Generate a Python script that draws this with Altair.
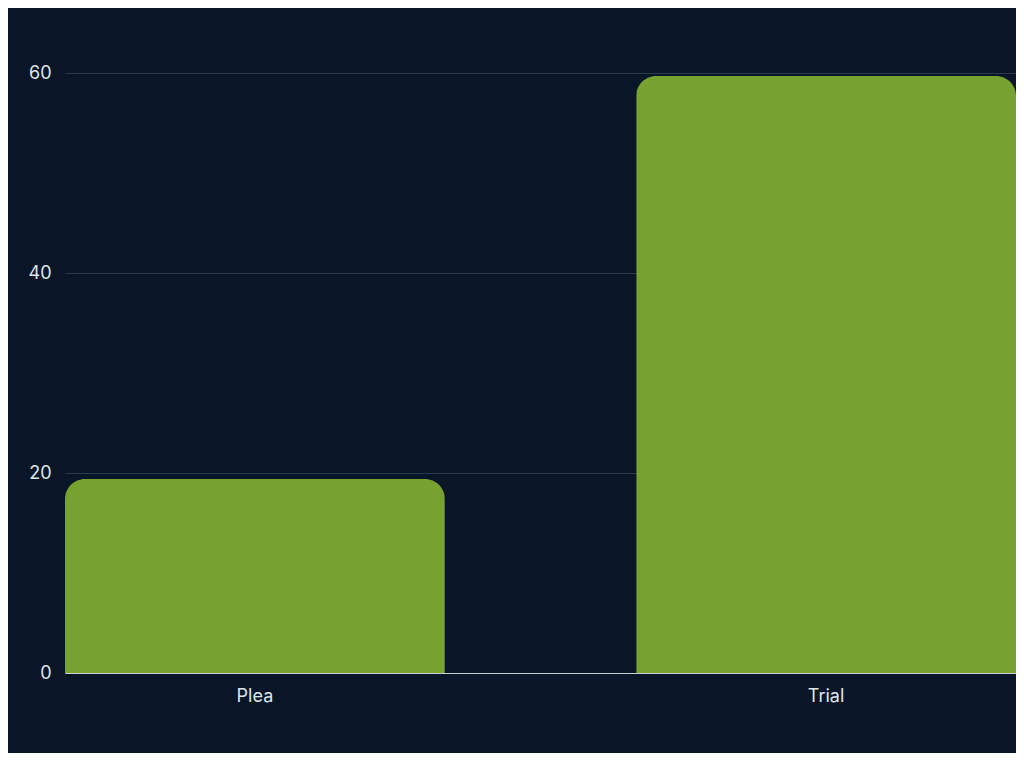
import altair as alt
import pandas as pd

categories = ["Plea", "Trial"]
values = [19.4, 59.7]

df = pd.DataFrame({"category": categories, "value": values})

bars = alt.Chart(df).mark_bar(
    color="#78a22f",
    cornerRadiusTopLeft=20,
    cornerRadiusTopRight=20,
).encode(
    x=alt.X("category:N", sort=categories, title=None,
            scale=alt.Scale(paddingInner=0.335, paddingOuter=0),
            axis=alt.Axis(labelAngle=0, labelFontSize=18, labelColor="#dfe5ec",
                          labelFont="Inter", labelPadding=14, ticks=False,
                          domain=True, domainColor="#c8d0d8", domainWidth=1,
                          grid=False)),
    y=alt.Y("value:Q", title=None,
            scale=alt.Scale(domain=[0, 60]),
            axis=alt.Axis(values=[0, 20, 40, 60], labelFontSize=18,
                          labelColor="#dfe5ec", labelFont="Inter",
                          labelPadding=14, ticks=False, domain=False,
                          grid=True, gridColor="#2c3b4b", gridWidth=1)),
)

chart = bars.properties(
    width=951,
    height=600,
    background="#081628",
    padding={"left": 57, "top": 65, "right": 0, "bottom": 80},
    autosize=alt.AutoSizeParams(type="none"),
).configure_view(stroke=None)

chart.save("out.html", embed_options={"renderer": "svg", "actions": False})
